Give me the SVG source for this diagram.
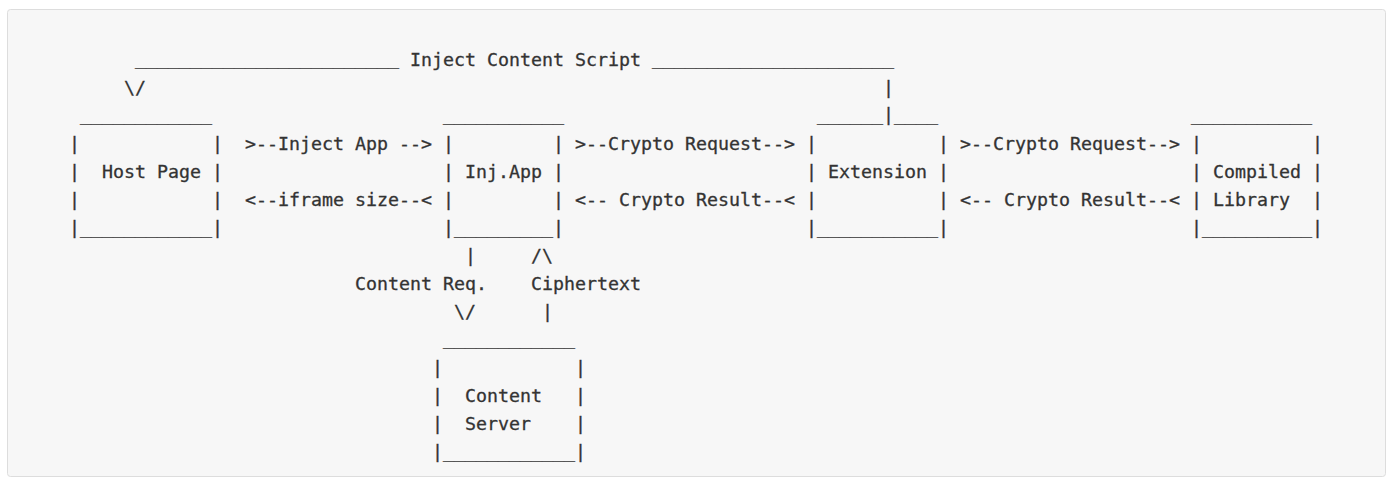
<svg xmlns="http://www.w3.org/2000/svg" width="1396" height="488" viewBox="0 0 1396 488">
<style>
.t{font-family:"DejaVu Sans Mono","Liberation Mono",monospace;font-size:18.27px;fill:#333333;stroke:#333333;stroke-width:0.3px;white-space:pre}
</style>
<rect x="0" y="0" width="1396" height="488" fill="#ffffff"/>
<rect x="7.5" y="9.5" width="1378" height="467" rx="3" fill="#f7f7f7" stroke="#dddddd"/>
<g class="t" xml:space="preserve">
<g id="host-page">
<text x="80" y="121">____________</text>
<text x="69" y="150">|</text><text x="212" y="150">|</text>
<text x="69" y="178">|</text><text x="102" y="178">Host Page</text><text x="212" y="178">|</text>
<text x="69" y="206">|</text><text x="212" y="206">|</text>
<text x="69" y="234">|____________|</text>
</g>
<g id="inj-app">
<text x="443" y="121">___________</text>
<text x="443" y="150">|</text><text x="553" y="150">|</text>
<text x="443" y="178">|</text><text x="465" y="178">Inj.App</text><text x="553" y="178">|</text>
<text x="443" y="206">|</text><text x="553" y="206">|</text>
<text x="443" y="234">|_________|</text>
</g>
<g id="extension">
<text x="817" y="121">______|____</text>
<text x="806" y="150">|</text><text x="938" y="150">|</text>
<text x="806" y="178">|</text><text x="828" y="178">Extension</text><text x="938" y="178">|</text>
<text x="806" y="206">|</text><text x="938" y="206">|</text>
<text x="806" y="234">|___________|</text>
</g>
<g id="compiled-library">
<text x="1191" y="121">___________</text>
<text x="1191" y="150">|</text><text x="1312" y="150">|</text>
<text x="1191" y="178">|</text><text x="1213" y="178">Compiled</text><text x="1312" y="178">|</text>
<text x="1191" y="206">|</text><text x="1213" y="206">Library</text><text x="1312" y="206">|</text>
<text x="1191" y="234">|__________|</text>
</g>
<g id="content-server">
<text x="443" y="345">____________</text>
<text x="432" y="374">|</text><text x="575" y="374">|</text>
<text x="432" y="402">|</text><text x="465" y="402">Content</text><text x="575" y="402">|</text>
<text x="432" y="430">|</text><text x="465" y="430">Server</text><text x="575" y="430">|</text>
<text x="432" y="458">|____________|</text>
</g>
<g id="connectors">
<text x="135" y="65">________________________</text>
<text x="410" y="66">Inject Content Script</text>
<text x="652" y="65">______________________</text>
<text x="124" y="94">\/</text>
<text x="883" y="94">|</text>
<text x="245" y="150">&gt;--Inject App --&gt;</text>
<text x="245" y="206">&lt;--iframe size--&lt;</text>
<text x="575" y="150">&gt;--Crypto Request--&gt;</text>
<text x="575" y="206">&lt;-- Crypto Result--&lt;</text>
<text x="960" y="150">&gt;--Crypto Request--&gt;</text>
<text x="960" y="206">&lt;-- Crypto Result--&lt;</text>
<text x="465" y="262">|</text>
<text x="531" y="262">/\</text>
<text x="355" y="290">Content Req.</text>
<text x="531" y="290">Ciphertext</text>
<text x="454" y="318">\/</text>
<text x="542" y="318">|</text>
</g>
</g>
</svg>
